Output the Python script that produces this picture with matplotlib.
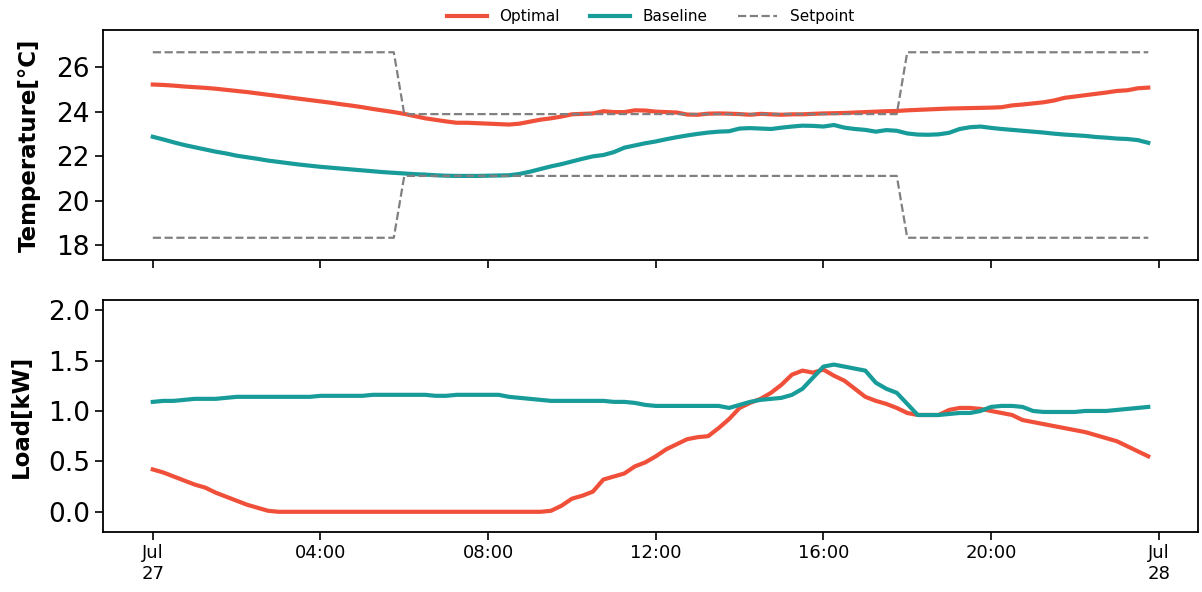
import numpy as np
import pandas as pd
import matplotlib
matplotlib.use("Agg")
import matplotlib.pyplot as plt
import matplotlib.dates as mdates

# 15-minute timestamps for one day
times = pd.date_range("2023-07-27 00:00", periods=96, freq="15min")

temp_optimal = [
    25.22, 25.20, 25.17, 25.13, 25.10, 25.07, 25.03, 24.98,
    24.93, 24.88, 24.82, 24.76, 24.70, 24.64, 24.58, 24.52,
    24.46, 24.40, 24.33, 24.27, 24.20, 24.12, 24.05, 23.98,
    23.90, 23.80, 23.70, 23.63, 23.56, 23.50, 23.50, 23.48,
    23.46, 23.44, 23.42, 23.46, 23.55, 23.64, 23.70, 23.78,
    23.88, 23.90, 23.92, 24.02, 23.98, 23.98, 24.06, 24.05,
    24.00, 23.98, 23.96, 23.87, 23.86, 23.91, 23.92, 23.91,
    23.89, 23.86, 23.90, 23.88, 23.86, 23.88, 23.88, 23.90,
    23.92, 23.93, 23.94, 23.96, 23.98, 24.00, 24.02, 24.03,
    24.06, 24.08, 24.10, 24.12, 24.14, 24.15, 24.16, 24.17,
    24.18, 24.20, 24.28, 24.32, 24.37, 24.42, 24.50, 24.62,
    24.68, 24.74, 24.80, 24.86, 24.93, 24.96, 25.05, 25.08,
]

temp_baseline = [
    22.87, 22.75, 22.62, 22.50, 22.40, 22.30, 22.20, 22.12,
    22.02, 21.95, 21.88, 21.80, 21.74, 21.68, 21.62, 21.57,
    21.52, 21.48, 21.44, 21.40, 21.36, 21.32, 21.28, 21.25,
    21.22, 21.19, 21.17, 21.14, 21.12, 21.11, 21.11, 21.11,
    21.12, 21.13, 21.14, 21.20, 21.30, 21.42, 21.54, 21.64,
    21.76, 21.88, 21.99, 22.05, 22.18, 22.38, 22.48, 22.58,
    22.66, 22.76, 22.85, 22.93, 23.00, 23.06, 23.10, 23.12,
    23.24, 23.26, 23.24, 23.22, 23.28, 23.33, 23.37, 23.36,
    23.33, 23.40, 23.28, 23.22, 23.18, 23.10, 23.17, 23.14,
    23.02, 22.97, 22.96, 22.98, 23.05, 23.22, 23.30, 23.33,
    23.27, 23.22, 23.18, 23.14, 23.10, 23.06, 23.01, 22.97,
    22.94, 22.91, 22.86, 22.83, 22.79, 22.77, 22.72, 22.60,
]

# comfort band: 80/75 F upper, 65/70 F lower, in Celsius
setpoint_upper = [26.67] * 24 + [23.89] * 48 + [26.67] * 24
setpoint_lower = [18.33] * 24 + [21.11] * 48 + [18.33] * 24

load_optimal = [
    0.42, 0.39, 0.35, 0.31, 0.27, 0.24, 0.19, 0.15,
    0.11, 0.07, 0.04, 0.01, 0.00, 0.00, 0.00, 0.00,
    0.00, 0.00, 0.00, 0.00, 0.00, 0.00, 0.00, 0.00,
    0.00, 0.00, 0.00, 0.00, 0.00, 0.00, 0.00, 0.00,
    0.00, 0.00, 0.00, 0.00, 0.00, 0.00, 0.01, 0.06,
    0.13, 0.16, 0.20, 0.32, 0.35, 0.38, 0.45, 0.49,
    0.55, 0.62, 0.67, 0.72, 0.74, 0.75, 0.83, 0.92,
    1.03, 1.08, 1.12, 1.18, 1.26, 1.36, 1.40, 1.38,
    1.41, 1.35, 1.30, 1.22, 1.14, 1.10, 1.07, 1.03,
    0.98, 0.96, 0.96, 0.96, 1.01, 1.03, 1.03, 1.02,
    1.00, 0.98, 0.96, 0.91, 0.89, 0.87, 0.85, 0.83,
    0.81, 0.79, 0.76, 0.73, 0.70, 0.65, 0.60, 0.55,
]

load_baseline = [
    1.09, 1.10, 1.10, 1.11, 1.12, 1.12, 1.12, 1.13,
    1.14, 1.14, 1.14, 1.14, 1.14, 1.14, 1.14, 1.14,
    1.15, 1.15, 1.15, 1.15, 1.15, 1.16, 1.16, 1.16,
    1.16, 1.16, 1.16, 1.15, 1.15, 1.16, 1.16, 1.16,
    1.16, 1.16, 1.14, 1.13, 1.12, 1.11, 1.10, 1.10,
    1.10, 1.10, 1.10, 1.10, 1.09, 1.09, 1.08, 1.06,
    1.05, 1.05, 1.05, 1.05, 1.05, 1.05, 1.05, 1.03,
    1.06, 1.09, 1.11, 1.12, 1.13, 1.16, 1.22, 1.33,
    1.44, 1.46, 1.44, 1.42, 1.40, 1.28, 1.22, 1.18,
    1.07, 0.96, 0.96, 0.96, 0.97, 0.98, 0.98, 1.00,
    1.04, 1.05, 1.05, 1.04, 1.00, 0.99, 0.99, 0.99,
    0.99, 1.00, 1.00, 1.00, 1.01, 1.02, 1.03, 1.04,
]

c_opt = "#f05039"
c_base = "#189c9a"

fig = plt.figure(figsize=(12.02, 5.92), dpi=100)
ax1 = fig.add_axes([0.0857, 0.5608, 0.911, 0.3885])
ax2 = fig.add_axes([0.0857, 0.1014, 0.911, 0.3918], sharex=ax1)

ax1.plot(times, temp_optimal, color=c_opt, lw=3, label="Optimal")
ax1.plot(times, temp_baseline, color=c_base, lw=3, label="Baseline")
ax1.plot(times, setpoint_upper, color="gray", ls="--", lw=1.6, label="Setpoint")
ax1.plot(times, setpoint_lower, color="gray", ls="--", lw=1.6)
ax1.set_ylim(17.33, 27.67)
ax1.set_yticks([18, 20, 22, 24, 26])
ax1.set_ylabel("Temperature[°C]", fontsize=16.5, fontweight="bold", labelpad=11)

ax2.plot(times, load_optimal, color=c_opt, lw=3)
ax2.plot(times, load_baseline, color=c_base, lw=3)
ax2.set_ylim(-0.2, 2.1)
ax2.set_yticks([0.0, 0.5, 1.0, 1.5, 2.0])
ax2.set_ylabel("Load[kW]", fontsize=16.5, fontweight="bold", labelpad=11)


def hour_fmt(x, pos=None):
    d = mdates.num2date(x)
    if d.hour == 0:
        return d.strftime("%b\n%d")
    return d.strftime("%H:%M")


ax2.xaxis.set_major_locator(mdates.HourLocator(byhour=range(0, 24, 4)))
ax2.xaxis.set_major_formatter(plt.FuncFormatter(hour_fmt))
plt.setp(ax1.get_xticklabels(), visible=False)

for ax in (ax1, ax2):
    ax.tick_params(axis="y", labelsize=19, length=6, width=1.2)
    ax.tick_params(axis="x", labelsize=13, length=6, width=1.2, pad=3)
    for s in ax.spines.values():
        s.set_linewidth(1.3)

ax1.legend(loc="lower center", bbox_to_anchor=(0.5, 1.0), ncol=3,
           frameon=False, fontsize=11, handlelength=2.6, borderaxespad=0.0)

fig.savefig("out.png", dpi=100)
